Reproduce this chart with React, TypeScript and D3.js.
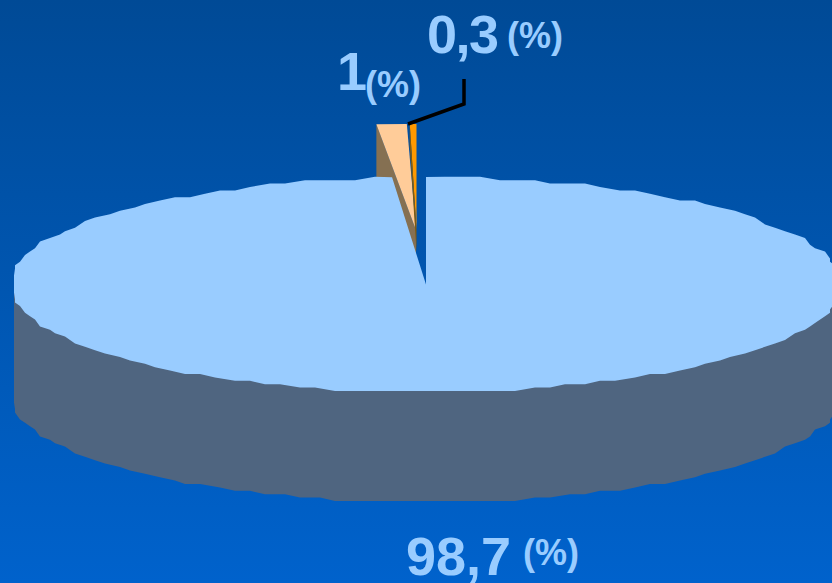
import React from "react";
import * as d3 from "d3";

const sliceNames = ["main", "peach", "orange"];
const sliceValues = [98.7, 1, 0.3];
const valueLabels = ["98,7", "1", "0,3"];
const unitLabel = "(%)";

const W = 832, H = 583;
const cx = 426, cy = 284.5, rx = 416, ry = 107.5, depth = 110, leftLimit = 14;
const font = "'Liberation Sans', Arial, sans-serif";
const textColor = "#99CCFF";

const pie = d3.pie<number>().sort(null).value((d) => d);
const arcs = pie(sliceValues);
const line = d3.line();

// Slightly stepped ellipse edge, like the coarse polygon of the original rendering
const edge = (a0: number, a1: number, dy = 0): [number, number][] => {
  const n = Math.max(2, Math.round(Math.abs(a1 - a0) / ((2.5 * Math.PI) / 180)));
  return d3.range(n + 1).map((i) => {
    const a = a0 + ((a1 - a0) * i) / n;
    const x = cx + rx * Math.sin(a);
    const y = cy - ry * Math.cos(a);
    const end = i === 0 || i === n;
    const qx = end ? x : Math.round(x / 5) * 5;
    return [Math.max(leftLimit, qx), (end ? y : Math.round(y / 3.4) * 3.4) + dy] as [number, number];
  });
};

const main = arcs[0];
const mainTop = [[cx, cy] as [number, number], ...edge(main.startAngle, main.endAngle)];
const wallPath: [number, number][] = [
  [leftLimit, cy],
  ...edge((3 * Math.PI) / 2, Math.PI / 2, depth),
  [cx + rx, cy],
];

// Exploded slices: own apex and enlarged flat wedge
const wedge = (arc: d3.PieArcDatum<number>, ax: number, ay: number, pad: number) => {
  const sx = 486, sy = 106;
  const p = (a: number): [number, number] => [ax + sx * Math.sin(a), ay - sy * Math.cos(a)];
  return { apex: [ax, ay] as [number, number], left: p(arc.startAngle + pad), right: p(arc.endAngle) };
};
const peach = wedge(arcs[1], 416, 230, 0);
const orange = wedge(arcs[2], 416.5, 230, 0.005);
const sideWall = (w: ReturnType<typeof wedge>, d: number): [number, number][] => [
  w.left, w.apex, [w.apex[0], w.apex[1] + d], [w.left[0], w.left[1] + d],
];

const leader: [number, number][] = [[464, 79], [464, 104], [408, 124]];

const Label = ({ v, x, y, ux, uy, ls }: { v: string; x: number; y: number; ux: number; uy: number; ls: number }) => (
  <g fontFamily={font} fontWeight="bold" fill={textColor}>
    <text x={x} y={y} fontSize={54} letterSpacing={ls}>{v}</text>
    <text x={ux} y={uy} fontSize={36}>{unitLabel}</text>
  </g>
);

export default function App() {
  return (
    <svg width={W} height={H} viewBox={`0 0 ${W} ${H}`} style={{ position: "fixed", left: 0, top: 0, display: "block" }}>
      <defs>
        <linearGradient id="bg" x1="0" y1="0" x2="0" y2="1">
          <stop offset="0" stopColor="#004A96" />
          <stop offset="1" stopColor="#0062CC" />
        </linearGradient>
      </defs>
      <rect width={W} height={H} fill="url(#bg)" />
      <path d={line(sideWall(peach, depth))!} fill="#857052" />
      <path d={line([peach.apex, peach.left, peach.right])! + "Z"} fill="#FFCC99" />
      <path d={line([orange.apex, orange.left, orange.right])! + "Z"} fill="#FF9900" />
      <path d={line(sideWall(orange, 22))!} fill="#7F5A10" />
      <path d={line(wallPath)! + "Z"} fill="#4F6580" />
      <path d={line(mainTop)! + "Z"} fill="#99CCFF" />
      <path d={line(leader)!} fill="none" stroke="#000" strokeWidth={3.5} />
      <Label v={valueLabels[2]} x={427} y={53} ux={507} uy={48} ls={-1.5} />
      <Label v={valueLabels[1]} x={337} y={90} ux={365} uy={97} ls={0} />
      <Label v={valueLabels[0]} x={406} y={575} ux={523} uy={565} ls={0} />
    </svg>
  );
}
